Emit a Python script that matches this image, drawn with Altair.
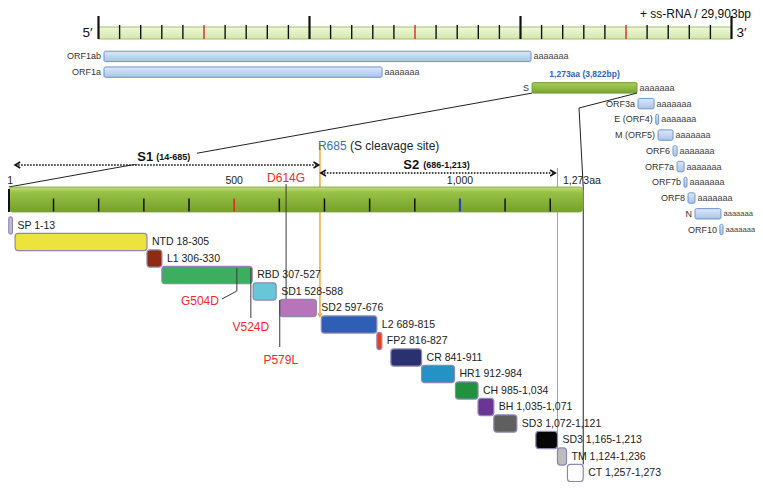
import altair as alt
import pandas as pd

# ---------------- data ----------------
genome_len_kb = 30
genome_ticks_kb = list(range(0, 31))
genome_major_kb = [0, 10, 20, 30]
genome_red_kb = [5, 15, 25]
genome_title = "+ ss-RNA / 29,903bp"

orf_names = ["ORF1ab", "ORF1a", "S", "ORF3a", "E (ORF4)", "M (ORF5)", "ORF6",
             "ORF7a", "ORF7b", "ORF8", "N", "ORF10"]
orf_start_kb = [0.26, 0.26, 20.55, 25.57, 26.41, 26.52, 27.23, 27.42, 27.75, 27.94, 28.27, 29.45]
orf_end_kb = [20.50, 13.44, 25.52, 26.33, 26.55, 27.23, 27.42, 27.75, 27.89, 28.27, 29.50, 29.60]
poly_a_tail = "aaaaaaa"
s_gene_note = "1,273aa (3,822bp)"

domain_labels = ["SP 1-13", "NTD 18-305", "L1 306-330", "RBD 307-527", "SD1 528-588",
                 "SD2 597-676", "L2 689-815", "FP2 816-827", "CR 841-911", "HR1 912-984",
                 "CH 985-1,034", "BH 1,035-1,071", "SD3 1,072-1,121", "SD3 1,165-1,213",
                 "TM 1,124-1,236", "CT 1,257-1,273"]
domain_start = [1, 15, 307, 340, 542, 601, 693, 816, 847, 915, 990, 1040, 1075, 1168, 1216, 1238]
domain_end = [9, 307, 340, 540, 593, 682, 816, 827, 915, 988, 1040, 1075, 1126, 1216, 1236, 1273]
domain_colors = ["#c3c0d2", "#ece43c", "#8e2c12", "#3dae5f", "#66c7d8", "#b874b8", "#2e5fb4",
                 "#e8401f", "#29316f", "#2492c6", "#22913f", "#6b3596", "#5f5f5f", "#060606",
                 "#bdbdbd", "#ffffff"]

protein_len = 1273
protein_ticks = [100, 200, 300, 400, 500, 600, 700, 800, 900, 1000, 1100, 1200]
protein_red_tick = 500
protein_blue_tick = 1000
protein_labels = ["1", "500", "1,000", "1,273aa"]
protein_label_at = [4, 500, 1000, 1270]

s1_name, s1_range, s1_arrow = "S1", "(14-685)", [15, 687]
s2_name, s2_range, s2_arrow = "S2", "(686-1,213)", [692, 1211]
cleavage_label, cleavage_note, cleavage_at = "R685", "(S cleavage site)", 690
s2_end_at = 1216
mut_labels = ["D614G", "G504D", "V524D", "P579L"]
mut_at = [615, 506, 537, 601]
g504d_leader_to = 473

# ---------------- layout ----------------
W, H = 747, 474
FONT = "Liberation Sans"
R0, RS = 0.8, 0.4516     # residue axis: px of residue 1, px per residue
K0, KS = 90.5, 21.1      # genome axis: px of 0 kb, px per kb
D0, DS = 217.5, 16.5     # domain rows
O0, OS = 48.4, 15.74     # ORF rows
DH = 0.52                # domain box half height (rows)


def lin(px0, step, size):
    return [-px0 / step, (size - px0) / step]


RX = alt.Scale(domain=[1 - R0 / RS, 1 + (W - R0) / RS], nice=False, zero=False)
KX = alt.Scale(domain=lin(K0, KS, W), nice=False, zero=False)
DY = alt.Scale(domain=lin(D0, DS, H), nice=False, zero=False, reverse=True)
OY = alt.Scale(domain=lin(O0, OS, H), nice=False, zero=False, reverse=True)


def rpx(r):
    return R0 + (r - 1) * RS


def kpx(k):
    return K0 + k * KS


def opy(i):
    return O0 + i * OS


def dpy(i):
    return D0 + i * DS


def xr(f):
    return alt.X(f + ":Q", scale=RX, axis=None)


def xk(f):
    return alt.X(f + ":Q", scale=KX, axis=None)


def vgrad(stops):
    return alt.Gradient(gradient="linear", x1=0, y1=0, x2=0, y2=1,
                        stops=[alt.GradientStop(color=c, offset=o) for o, c in stops])


one = pd.DataFrame({"k": [0]})
L = []

# ---------------- genome track ----------------
L.append(alt.Chart(pd.DataFrame({"s": [0], "e": [genome_len_kb]})).mark_rect(
    fill=vgrad([(0, "#f0f7de"), (1, "#d3e7ab")]), stroke="#9fc26a", strokeWidth=1
).encode(x=xk("s"), x2="e:Q", y=alt.value(19), y2=alt.value(31)))

tdf = pd.DataFrame({"kb": genome_ticks_kb})
tdf["kind"] = ["major" if k in genome_major_kb else ("red" if k in genome_red_kb else "minor")
               for k in genome_ticks_kb]
L.append(alt.Chart(tdf).transform_filter("datum.kind == 'minor'").mark_rule(
    color="#111", strokeWidth=1.4).encode(x=xk("kb"), y=alt.value(17), y2=alt.value(31)))
L.append(alt.Chart(tdf).transform_filter("datum.kind == 'red'").mark_rule(
    color="#e0262a", strokeWidth=1.4).encode(x=xk("kb"), y=alt.value(17), y2=alt.value(31)))
L.append(alt.Chart(tdf).transform_filter("datum.kind == 'major'").mark_rule(
    color="#111", strokeWidth=2.2).encode(x=xk("kb"), y=alt.value(8), y2=alt.value(31)))

ends = pd.DataFrame({"kb": [0, genome_len_kb], "t": ["5\u2032", "3\u2032"]})
L.append(alt.Chart(ends).transform_filter("datum.kb == 0").mark_text(
    align="right", baseline="middle", dx=-6, font=FONT, fontSize=13.5, color="#111"
).encode(x=xk("kb"), y=alt.value(25), text="t:N"))
L.append(alt.Chart(ends).transform_filter("datum.kb > 0").mark_text(
    align="left", baseline="middle", dx=5, font=FONT, fontSize=13.5, color="#111"
).encode(x=xk("kb"), y=alt.value(25), text="t:N"))

L.append(alt.Chart(pd.DataFrame({"t": [genome_title]})).mark_text(
    align="right", baseline="alphabetic", font=FONT, fontSize=12, color="#111"
).encode(x=alt.value(743), y=alt.value(9.5), text="t:N"))

# ---------------- ORFs ----------------
odf = pd.DataFrame({"name": orf_names, "s": orf_start_kb, "e": orf_end_kb,
                    "row": list(range(len(orf_names)))})
odf["y0"] = odf["row"] - 0.33
odf["y1"] = odf["row"] + 0.33
odf["tail"] = poly_a_tail
# tails that would run past the right edge are set a little smaller so they stay visible
odf["fs"] = [9.0 if kpx(e) + 3 + 9 * 0.556 * len(poly_a_tail) <= W - 1 else 7.6
             for e in orf_end_kb]
L.append(alt.Chart(odf).transform_filter("datum.name != 'S'").mark_rect(
    fill=vgrad([(0, "#dde8f7"), (1, "#a9c3e8")]), stroke="#6f95cb", strokeWidth=1,
    cornerRadius=1.5
).encode(x=xk("s"), x2="e:Q", y=alt.Y("y0:Q", scale=OY, axis=None), y2="y1:Q"))
L.append(alt.Chart(odf).transform_filter("datum.name == 'S'").mark_rect(
    fill=vgrad([(0, "#a9d058"), (1, "#77a42e")]), stroke="#6e9a33", strokeWidth=1,
    cornerRadius=1
).encode(x=xk("s"), x2="e:Q", y=alt.Y("y0:Q", scale=OY, axis=None), y2="y1:Q"))
L.append(alt.Chart(odf).mark_text(
    align="right", baseline="middle", dx=-3, font=FONT, fontSize=9, color="#333"
).encode(x=xk("s"), y=alt.Y("row:Q", scale=OY, axis=None), text="name:N"))
L.append(alt.Chart(odf).mark_text(
    align="left", baseline="middle", dx=2.5, font=FONT, color="#444"
).encode(x=xk("e"), y=alt.Y("row:Q", scale=OY, axis=None), text="tail:N",
         size=alt.Size("fs:Q", scale=None)))
sdf = odf[odf["name"] == "S"].copy()
sdf["mid"] = (sdf["s"] + sdf["e"]) / 2
sdf["note"] = s_gene_note
L.append(alt.Chart(sdf).mark_text(
    align="center", baseline="middle", dy=-13.5, font=FONT, fontSize=8.5, fontWeight="bold",
    color="#2f63c4"
).encode(x=xk("mid"), y=alt.Y("row:Q", scale=OY, axis=None), text="note:N"))

# ---------------- connectors (S gene -> protein) ----------------
s_row = orf_names.index("S")
s_bottom = opy(s_row) + 5.2
segs = [
    (kpx(orf_start_kb[s_row]), s_bottom, rpx(1), 179),
    (kpx(orf_end_kb[s_row]), s_bottom, 571, 100),
    (571, 100, rpx(protein_len), 179),
    (rpx(protein_len), 179, rpx(protein_len), dpy(15) - DH * DS),
]
for x1, y1, x2, y2 in segs:
    L.append(alt.Chart(one).mark_rule(color="#222", strokeWidth=1).encode(
        x=alt.value(x1), y=alt.value(y1), x2=alt.value(x2), y2=alt.value(y2)))

# S2 end (blue) line and cleavage (orange) line
L.append(alt.Chart(pd.DataFrame({"r": [s2_end_at]})).mark_rule(
    color="#8eaadb", strokeWidth=1.1).encode(x=xr("r"), y=alt.value(160),
                                             y2=alt.value(dpy(14) + 7)))
cdf = pd.DataFrame({"r": [cleavage_at], "lab": [cleavage_label], "note": [cleavage_note]})
orange_end = dpy(6) - DH * DS
L.append(alt.Chart(cdf).mark_rule(color="#f4a232", strokeWidth=1.4).encode(
    x=xr("r"), y=alt.value(135), y2=alt.value(orange_end)))
L.append(alt.Chart(cdf).mark_point(
    shape="M-1,-1.5L0,0L1,-1.5", filled=False, stroke="#f4a232", strokeWidth=1.4, size=16,
    opacity=1).encode(x=xr("r"), y=alt.value(orange_end + 0.5)))
L.append(alt.Chart(cdf).mark_text(
    align="left", baseline="middle", dx=-2, font=FONT, fontSize=12, color="#3d6cc0"
).encode(x=xr("r"), y=alt.value(138), text="lab:N"))
L.append(alt.Chart(cdf).mark_text(
    align="left", baseline="middle", dx=30, font=FONT, fontSize=12, color="#222"
).encode(x=xr("r"), y=alt.value(138), text="note:N"))

# mask behind the S1 label
L.append(alt.Chart(one).mark_rect(fill="white").encode(
    x=alt.value(122), x2=alt.value(189), y=alt.value(140), y2=alt.value(156.3)))

# ---------------- S1 / S2 arrows ----------------
arrows = pd.DataFrame({"s": [s1_arrow[0], s2_arrow[0]], "e": [s1_arrow[1], s2_arrow[1]],
                       "name": [s1_name, s2_name], "rng": [s1_range, s2_range],
                       "mid": [(14 + 685) / 2, (686 + 1213) / 2]})
for i, yv in enumerate([157, 165]):
    a = arrows.iloc[[i]]
    L.append(alt.Chart(a).mark_rule(color="#111", strokeWidth=1.7, strokeDash=[1.6, 1.4]).encode(
        x=xr("s"), x2="e:Q", y=alt.value(yv)))
    L.append(alt.Chart(a).mark_point(shape="M1.7,-1L0,0L1.7,1", filled=False, stroke="#111",
                                     strokeWidth=1.6, size=36, opacity=1).encode(
        x=xr("s"), y=alt.value(yv)))
    L.append(alt.Chart(a).mark_point(shape="M-1.7,-1L0,0L-1.7,1", filled=False, stroke="#111",
                                     strokeWidth=1.6, size=36, opacity=1).encode(
        x=xr("e"), y=alt.value(yv)))
    dxn, dxr = [(-13, -10), (-18, -14)][i]
    L.append(alt.Chart(a).mark_text(align="right", baseline="alphabetic", dx=dxn, font=FONT,
                                    fontSize=13, fontWeight="bold", color="#111").encode(
        x=xr("mid"), y=alt.value(yv - 4.5), text="name:N"))
    L.append(alt.Chart(a).mark_text(align="left", baseline="alphabetic", dx=dxr, font=FONT,
                                    fontSize=9, fontWeight="bold", color="#111").encode(
        x=xr("mid"), y=alt.value(yv - 4.8), text="rng:N"))

# ---------------- protein bar ----------------
L.append(alt.Chart(pd.DataFrame({"s": [1], "e": [protein_len]})).mark_rect(
    fill=vgrad([(0, "#c2dc80"), (0.22, "#98c146"), (1, "#74a02c")]), stroke="#7aa331",
    strokeWidth=0.8, cornerRadius=4
).encode(x=xr("s"), x2="e:Q", y=alt.value(179), y2=alt.value(204)))
pt = pd.DataFrame({"r": protein_ticks})
L.append(alt.Chart(pt).transform_filter(
    f"datum.r != {protein_red_tick} && datum.r != {protein_blue_tick}").mark_rule(
    color="#111", strokeWidth=1.5).encode(x=xr("r"), y=alt.value(190.5), y2=alt.value(203.5)))
L.append(alt.Chart(pt).transform_filter(f"datum.r == {protein_red_tick}").mark_rule(
    color="#e0262a", strokeWidth=1.6).encode(x=xr("r"), y=alt.value(190.5), y2=alt.value(203.5)))
L.append(alt.Chart(pt).transform_filter(f"datum.r == {protein_blue_tick}").mark_rule(
    color="#2b44a8", strokeWidth=2.2).encode(x=xr("r"), y=alt.value(190.5), y2=alt.value(203.5)))
L.append(alt.Chart(pd.DataFrame({"r": [1]})).mark_rule(color="#111", strokeWidth=2.4).encode(
    x=xr("r"), y=alt.value(181), y2=alt.value(204)))
L.append(alt.Chart(pd.DataFrame({"r": protein_label_at, "t": protein_labels})).mark_text(
    align="center", baseline="middle", font=FONT, fontSize=10.5, color="#222"
).encode(x=xr("r"), y=alt.value(173), text="t:N"))

# ---------------- mutations (line behind domains) ----------------
mdf = pd.DataFrame({"r": mut_at, "t": mut_labels})
MUT_LINE = "#3a3a3a"
L.append(alt.Chart(mdf[mdf.t == "D614G"]).mark_rule(color=MUT_LINE, strokeWidth=1).encode(
    x=xr("r"), y=alt.value(176), y2=alt.value(dpy(5) + DH * DS)))

# ---------------- domains ----------------
ddf = pd.DataFrame({"label": domain_labels, "s": domain_start, "e": domain_end,
                    "row": list(range(len(domain_labels))), "c": domain_colors})
ddf["y0"] = ddf["row"] - DH
ddf["y1"] = ddf["row"] + DH
L.append(alt.Chart(ddf).mark_rect(cornerRadius=3, stroke="#8f86b4", strokeWidth=1.2).encode(
    x=xr("s"), x2="e:Q", y=alt.Y("y0:Q", scale=DY, axis=None), y2="y1:Q",
    fill=alt.Fill("c:N", scale=None)))
L.append(alt.Chart(ddf).mark_text(
    align="left", baseline="middle", dx=5, font=FONT, fontSize=10.5, color="#222"
).encode(x=xr("e"), y=alt.Y("row:Q", scale=DY, axis=None), text="label:N"))

# ---------------- mutations (lines over domains + labels) ----------------
rbd_top = dpy(3) - DH * DS + 1.5
L.append(alt.Chart(mdf[mdf.t == "G504D"]).mark_rule(color=MUT_LINE, strokeWidth=1).encode(
    x=xr("r"), y=alt.value(rbd_top), y2=alt.value(dpy(3) + 16)))
g = mdf[mdf.t == "G504D"].copy()
g["r2"] = g504d_leader_to
L.append(alt.Chart(g).mark_rule(color=MUT_LINE, strokeWidth=1).encode(
    x=xr("r"), x2="r2:Q", y=alt.value(dpy(3) + 16), y2=alt.value(dpy(3) + 24)))
L.append(alt.Chart(mdf[mdf.t == "V524D"]).mark_rule(color=MUT_LINE, strokeWidth=1).encode(
    x=xr("r"), y=alt.value(rbd_top), y2=alt.value(dpy(3) + 43)))
L.append(alt.Chart(mdf[mdf.t == "P579L"]).mark_rule(color=MUT_LINE, strokeWidth=1).encode(
    x=xr("r"), y=alt.value(dpy(5) - 8), y2=alt.value(dpy(5) + 39)))

MUT_RED = "#ee2b2b"
L.append(alt.Chart(mdf[mdf.t == "D614G"]).mark_text(
    align="center", baseline="middle", font=FONT, fontSize=12, color=MUT_RED
).encode(x=xr("r"), y=alt.value(170), text="t:N"))
L.append(alt.Chart(g).mark_text(
    align="right", baseline="middle", dx=-3, font=FONT, fontSize=12, color=MUT_RED
).encode(x=xr("r2"), y=alt.value(dpy(3) + 26), text="t:N"))
L.append(alt.Chart(mdf[mdf.t == "V524D"]).mark_text(
    align="center", baseline="middle", font=FONT, fontSize=12, color=MUT_RED
).encode(x=xr("r"), y=alt.value(dpy(3) + 51.5), text="t:N"))
L.append(alt.Chart(mdf[mdf.t == "P579L"]).mark_text(
    align="center", baseline="middle", dx=1, font=FONT, fontSize=12, color=MUT_RED
).encode(x=xr("r"), y=alt.value(dpy(5) + 51.5), text="t:N"))

chart = alt.layer(*L).resolve_scale(x="independent", y="independent").properties(
    width=W, height=H, autosize=alt.AutoSizeParams(type="none"), padding=0,
    background="white"
).configure_view(stroke=None)

chart.save("out.html", embed_options={"renderer": "svg", "actions": False})
